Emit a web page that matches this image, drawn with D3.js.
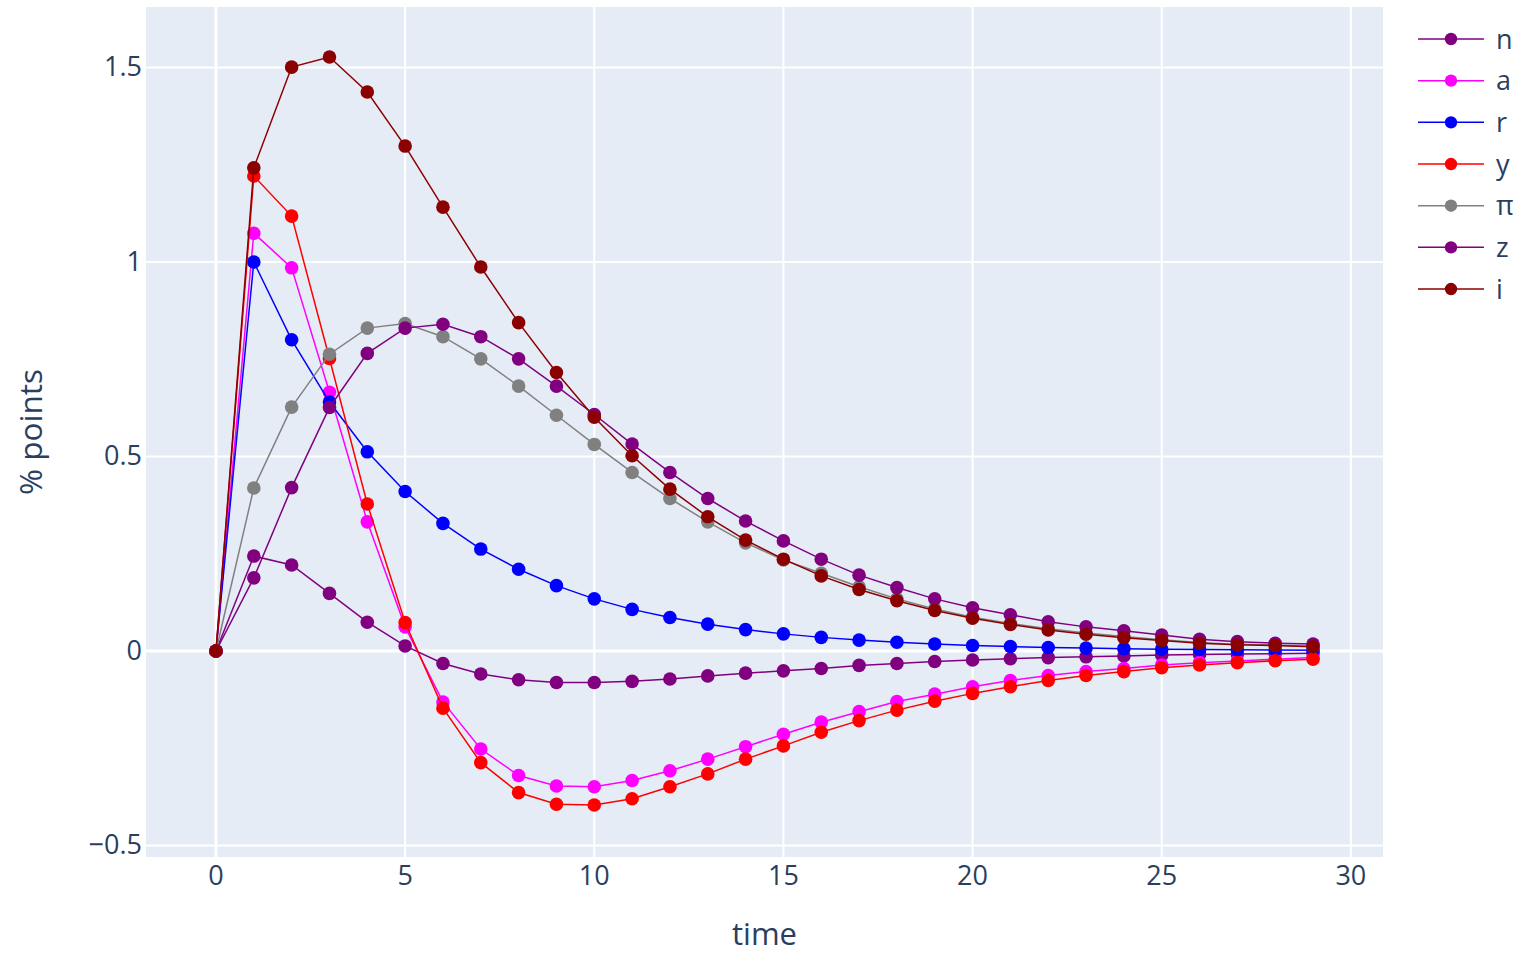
<!DOCTYPE html>
<html lang="en">
  <head>
    <meta charset="utf-8">
    <title>Impulse responses</title>
    <script type="text/javascript" src="https://cdnjs.cloudflare.com/ajax/libs/d3/7.8.5/d3.min.js"></script>
    <style>
      body { margin: 0; background: #fff; }
      text { font-family: "Open Sans", "Noto Sans", sans-serif; fill: #2a3f5f; }
    </style>
  </head>
  <body>
    <div id="chartDiv"></div>
    <script>
      // time steps
      var time = [0, 1, 2, 3, 4, 5, 6, 7, 8, 9, 10, 11, 12, 13, 14, 15, 16, 17, 18, 19,
                  20, 21, 22, 23, 24, 25, 26, 27, 28, 29];

      var seriesNames = ["n", "a", "r", "y", "π", "z", "i"];
      var seriesColors = ["#800080", "#ff00ff", "#0000ff", "#ff0000", "#808080", "#800080", "#8b0000"];

      var nVals = [0, 0.244, 0.221, 0.148, 0.074, 0.013, -0.032, -0.059, -0.074, -0.081,
                   -0.081, -0.078, -0.072, -0.064, -0.057, -0.051, -0.045, -0.037, -0.032, -0.027,
                   -0.023, -0.020, -0.017, -0.015, -0.013, -0.010, -0.009, -0.008, -0.007, -0.006];
      var aVals = [0, 1.074, 0.985, 0.665, 0.332, 0.062, -0.131, -0.252, -0.320, -0.347,
                   -0.349, -0.333, -0.308, -0.278, -0.246, -0.214, -0.183, -0.156, -0.130, -0.111,
                   -0.092, -0.076, -0.063, -0.053, -0.045, -0.036, -0.030, -0.026, -0.021, -0.017];
      var rVals = [0, 1, 0.8, 0.64, 0.512, 0.41, 0.328, 0.262, 0.21, 0.168,
                   0.134, 0.107, 0.086, 0.069, 0.055, 0.044, 0.035, 0.028, 0.0225, 0.018,
                   0.014, 0.0115, 0.009, 0.0074, 0.006, 0.0047, 0.0038, 0.003, 0.0024, 0.0019];
      var yVals = [0, 1.221, 1.118, 0.752, 0.378, 0.073, -0.147, -0.287, -0.364, -0.394,
                   -0.396, -0.380, -0.349, -0.316, -0.278, -0.244, -0.209, -0.179, -0.152, -0.129,
                   -0.109, -0.092, -0.076, -0.063, -0.053, -0.043, -0.036, -0.030, -0.025, -0.021];
      var piVals = [0, 0.419, 0.627, 0.763, 0.830, 0.842, 0.808, 0.751, 0.681, 0.606,
                    0.531, 0.459, 0.392, 0.332, 0.278, 0.234, 0.200, 0.165, 0.134, 0.108,
                    0.087, 0.071, 0.057, 0.046, 0.037, 0.029, 0.022, 0.017, 0.015, 0.012];
      var zVals = [0, 0.188, 0.420, 0.626, 0.765, 0.830, 0.840, 0.808, 0.751, 0.681,
                   0.608, 0.532, 0.459, 0.392, 0.334, 0.283, 0.236, 0.195, 0.163, 0.134,
                   0.111, 0.093, 0.075, 0.062, 0.052, 0.041, 0.030, 0.024, 0.020, 0.018];
      var iVals = [0, 1.242, 1.501, 1.527, 1.437, 1.298, 1.141, 0.987, 0.844, 0.716,
                   0.601, 0.502, 0.416, 0.345, 0.285, 0.236, 0.193, 0.158, 0.129, 0.104,
                   0.084, 0.068, 0.054, 0.043, 0.034, 0.027, 0.020, 0.016, 0.014, 0.011];

      var xTicks = [0, 5, 10, 15, 20, 25, 30];
      var yTicks = [-0.5, 0, 0.5, 1, 1.5];

      var allVals = [nVals, aVals, rVals, yVals, piVals, zVals, iVals];

      var series = seriesNames.map(function(name, k) {
        return {
          name: name,
          color: seriesColors[k],
          points: time.map(function(t, j) { return {t: t, v: allVals[k][j]}; })
        };
      });

      var chartWd = 1519, chartHt = 953;
      var margin = {left: 146, top: 7, right: 136, bottom: 96};
      var plotWd = chartWd - margin.left - margin.right;
      var plotHt = chartHt - margin.top - margin.bottom;

      var xScale = d3.scaleLinear()
                     .domain([-1.85, 30.85])
                     .range([0, plotWd]);

      var yScale = d3.scaleLinear()
                     .domain([-0.5296, 1.6555])
                     .range([plotHt, 0]);

      var svg = d3.select("#chartDiv")
                  .append("svg")
                  .attr("width", chartWd)
                  .attr("height", chartHt);

      var g = svg.append("g")
                 .attr("transform", "translate(" + margin.left + "," + margin.top + ")");

      g.append("rect")
       .attr("width", plotWd)
       .attr("height", plotHt)
       .attr("fill", "#e5ecf6");

      // grid
      g.selectAll("line.gridX")
       .data(xTicks)
       .enter()
       .append("line")
       .attr("class", "gridX")
       .attr("x1", function(d) { return xScale(d); })
       .attr("x2", function(d) { return xScale(d); })
       .attr("y1", 0)
       .attr("y2", plotHt)
       .attr("stroke", "#fff")
       .attr("stroke-width", function(d) { return d === 0 ? 3 : 2; });

      g.selectAll("line.gridY")
       .data(yTicks)
       .enter()
       .append("line")
       .attr("class", "gridY")
       .attr("y1", function(d) { return yScale(d); })
       .attr("y2", function(d) { return yScale(d); })
       .attr("x1", 0)
       .attr("x2", plotWd)
       .attr("stroke", "#fff")
       .attr("stroke-width", function(d) { return d === 0 ? 3 : 2; });

      // tick labels
      var fmt = function(d) { return d < 0 ? "\u2212" + Math.abs(d) : String(d); };

      g.selectAll("text.xtick")
       .data(xTicks)
       .enter()
       .append("text")
       .attr("class", "xtick")
       .attr("x", function(d) { return xScale(d); })
       .attr("y", plotHt + 28)
       .attr("text-anchor", "middle")
       .attr("font-size", "27px")
       .text(fmt);

      g.selectAll("text.ytick")
       .data(yTicks)
       .enter()
       .append("text")
       .attr("class", "ytick")
       .attr("x", -4)
       .attr("y", function(d) { return yScale(d) + 9; })
       .attr("text-anchor", "end")
       .attr("font-size", "27px")
       .text(fmt);

      // axis titles
      svg.append("text")
         .attr("x", margin.left + plotWd / 2)
         .attr("y", 945)
         .attr("text-anchor", "middle")
         .attr("font-size", "31px")
         .text("time");

      svg.append("text")
         .attr("transform", "translate(42," + (margin.top + plotHt / 2) + ") rotate(-90)")
         .attr("text-anchor", "middle")
         .attr("font-size", "31.5px")
         .text("% points");

      // traces
      var line = d3.line()
                   .x(function(d) { return xScale(d.t); })
                   .y(function(d) { return yScale(d.v); });

      var traces = g.selectAll("g.trace")
                    .data(series)
                    .enter()
                    .append("g")
                    .attr("class", "trace");

      traces.append("path")
            .attr("d", function(d) { return line(d.points); })
            .attr("fill", "none")
            .attr("stroke", function(d) { return d.color; })
            .attr("stroke-width", 1.5);

      traces.each(function(s) {
        d3.select(this)
          .selectAll("circle")
          .data(s.points)
          .enter()
          .append("circle")
          .attr("cx", function(d) { return xScale(d.t); })
          .attr("cy", function(d) { return yScale(d.v); })
          .attr("r", 6.8)
          .attr("fill", s.color);
      });

      // legend
      var legend = svg.selectAll("g.legend")
                      .data(series)
                      .enter()
                      .append("g")
                      .attr("class", "legend")
                      .attr("transform", function(d, k) { return "translate(1418," + (39 + k * 41.67) + ")"; });

      legend.append("line")
            .attr("x1", 0)
            .attr("x2", 66)
            .attr("stroke", function(d) { return d.color; })
            .attr("stroke-width", 1.5);

      legend.append("circle")
            .attr("cx", 33)
            .attr("r", 6.2)
            .attr("fill", function(d) { return d.color; });

      legend.append("text")
            .attr("x", 78)
            .attr("y", 9.5)
            .attr("font-size", "27px")
            .text(function(d) { return d.name; });
    </script>
  </body>
</html>
